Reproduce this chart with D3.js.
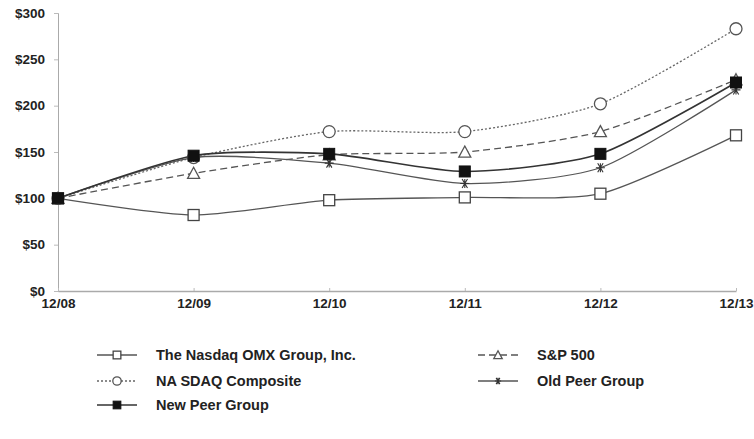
<!DOCTYPE html>
<html>
<head>
<meta charset="utf-8">
<script src="https://cdn.jsdelivr.net/npm/d3@7"></script>
<style>
  body { margin: 0; background: #fff; }
  text { font-family: "Liberation Sans", Arial, sans-serif; font-weight: bold; fill: #222; }
</style>
</head>
<body>
<div id="chart"></div>
<script>
// data
var periods = ["12/08", "12/09", "12/10", "12/11", "12/12", "12/13"];
var yTicks = [0, 50, 100, 150, 200, 250, 300];

var nasdaqOmx = [100, 82, 98, 101, 105, 168];
var sp500 = [100, 127, 147, 150, 172, 228];
var nasdaqComp = [100, 144, 172, 172, 202, 283];
var oldPeer = [100, 144, 138, 116, 133, 217];
var newPeer = [100, 146, 148, 129, 148, 225];

var seriesNames = ["The Nasdaq OMX Group, Inc.", "S&P 500", "NA SDAQ Composite", "Old Peer Group", "New Peer Group"];

var svgWidth = 754, svgHeight = 439;

var svg = d3.select("#chart").append("svg")
    .attr("width", svgWidth)
    .attr("height", svgHeight);

// plot area
var x = d3.scalePoint().domain(periods).range([58, 736]);
var y = d3.scaleLinear().domain([0, 300]).range([291, 13]);

// y axis
var yAxisG = svg.append("g")
    .attr("transform", "translate(58,0)")
    .call(d3.axisLeft(y).tickValues(yTicks).tickSize(4).tickFormat(function(d) { return "$" + d; }));
yAxisG.select(".domain").attr("stroke", "#aaa");
yAxisG.selectAll(".tick line").attr("stroke", "#bbb");
yAxisG.selectAll(".tick text").attr("x", -13).attr("font-size", 13.5)
    .attr("font-family", "Liberation Sans, Arial, sans-serif").attr("font-weight", "bold").attr("fill", "#222");

// x axis
var xAxisG = svg.append("g")
    .attr("transform", "translate(0,291)")
    .call(d3.axisBottom(x).tickSize(-3).tickSizeOuter(0));
xAxisG.select(".domain").attr("stroke", "#aaa").attr("stroke-width", 1.5);
xAxisG.selectAll(".tick line").attr("stroke", "#bbb");
xAxisG.selectAll(".tick text").attr("y", 7).attr("font-size", 13.5)
    .attr("font-family", "Liberation Sans, Arial, sans-serif").attr("font-weight", "bold").attr("fill", "#222");

var series = [
    { name: seriesNames[0], values: nasdaqOmx, dash: null, width: 1.3, color: "#555", marker: "openSquare" },
    { name: seriesNames[1], values: sp500, dash: "7,4", width: 1.3, color: "#555", marker: "triangle" },
    { name: seriesNames[2], values: nasdaqComp, dash: "2,2", width: 1.3, color: "#666", marker: "circle" },
    { name: seriesNames[3], values: oldPeer, dash: null, width: 1.3, color: "#555", marker: "star" },
    { name: seriesNames[4], values: newPeer, dash: null, width: 1.6, color: "#333", marker: "filledSquare" }
];

var line = d3.line()
    .x(function(d, i) { return x(periods[i]); })
    .y(function(d) { return y(d); })
    .curve(d3.curveCardinal.tension(0.3));

// k scales the marker size (legend uses smaller ones)
function drawMarker(g, type, cx, cy, k) {
    var h = 5.5 * k;
    if (type == "openSquare") {
        g.append("rect").attr("x", cx - h).attr("y", cy - h).attr("width", 2 * h).attr("height", 2 * h)
            .attr("fill", "#fff").attr("stroke", "#444").attr("stroke-width", 1.3);
    } else if (type == "filledSquare") {
        g.append("rect").attr("x", cx - h).attr("y", cy - h).attr("width", 2 * h).attr("height", 2 * h)
            .attr("fill", "#111").attr("stroke", "#111");
    } else if (type == "circle") {
        g.append("circle").attr("cx", cx).attr("cy", cy).attr("r", 6 * k)
            .attr("fill", "#fff").attr("stroke", "#555").attr("stroke-width", 1.3);
    } else if (type == "triangle") {
        var t = 6 * k;
        g.append("path").attr("d", "M" + cx + "," + (cy - t) + "L" + (cx + t) + "," + (cy + t * 0.85) + "L" + (cx - t) + "," + (cy + t * 0.85) + "Z")
            .attr("fill", "#fff").attr("stroke", "#555").attr("stroke-width", 1.3);
    } else if (type == "star") {
        var s = 4.5 * k;
        g.append("path")
            .attr("d", "M" + (cx - s) + "," + cy + "L" + (cx + s) + "," + cy +
                "M" + (cx - s * 0.6) + "," + (cy - s) + "L" + (cx + s * 0.6) + "," + (cy + s) +
                "M" + (cx + s * 0.6) + "," + (cy - s) + "L" + (cx - s * 0.6) + "," + (cy + s) +
                "M" + cx + "," + (cy - s) + "L" + cx + "," + (cy + s))
            .attr("stroke", "#333").attr("stroke-width", 1.1).attr("fill", "none");
    }
}

// draw the lines then the markers
var plot = svg.append("g");
series.forEach(function(s) {
    plot.append("path")
        .datum(s.values)
        .attr("d", line)
        .attr("fill", "none")
        .attr("stroke", s.color)
        .attr("stroke-width", s.width)
        .attr("stroke-dasharray", s.dash);
});
series.forEach(function(s) {
    var mg = plot.append("g");
    s.values.forEach(function(v, i) {
        drawMarker(mg, s.marker, x(periods[i]), y(v), 1);
    });
});

// legend
var legendPos = [
    { x: 97, y: 355 }, { x: 478, y: 355 },
    { x: 97, y: 381 }, { x: 478, y: 381 },
    { x: 97, y: 405 }
];
series.forEach(function(s, i) {
    var p = legendPos[i];
    var lg = svg.append("g");
    lg.append("line").attr("x1", p.x).attr("x2", p.x + 40).attr("y1", p.y).attr("y2", p.y)
        .attr("stroke", s.color).attr("stroke-width", s.width).attr("stroke-dasharray", s.dash);
    drawMarker(lg, s.marker, p.x + 20, p.y, 0.7);
    lg.append("text").attr("x", p.x + 59).attr("y", p.y).attr("dy", "0.36em")
        .attr("font-size", 14.5).text(s.name);
});
</script>
</body>
</html>
